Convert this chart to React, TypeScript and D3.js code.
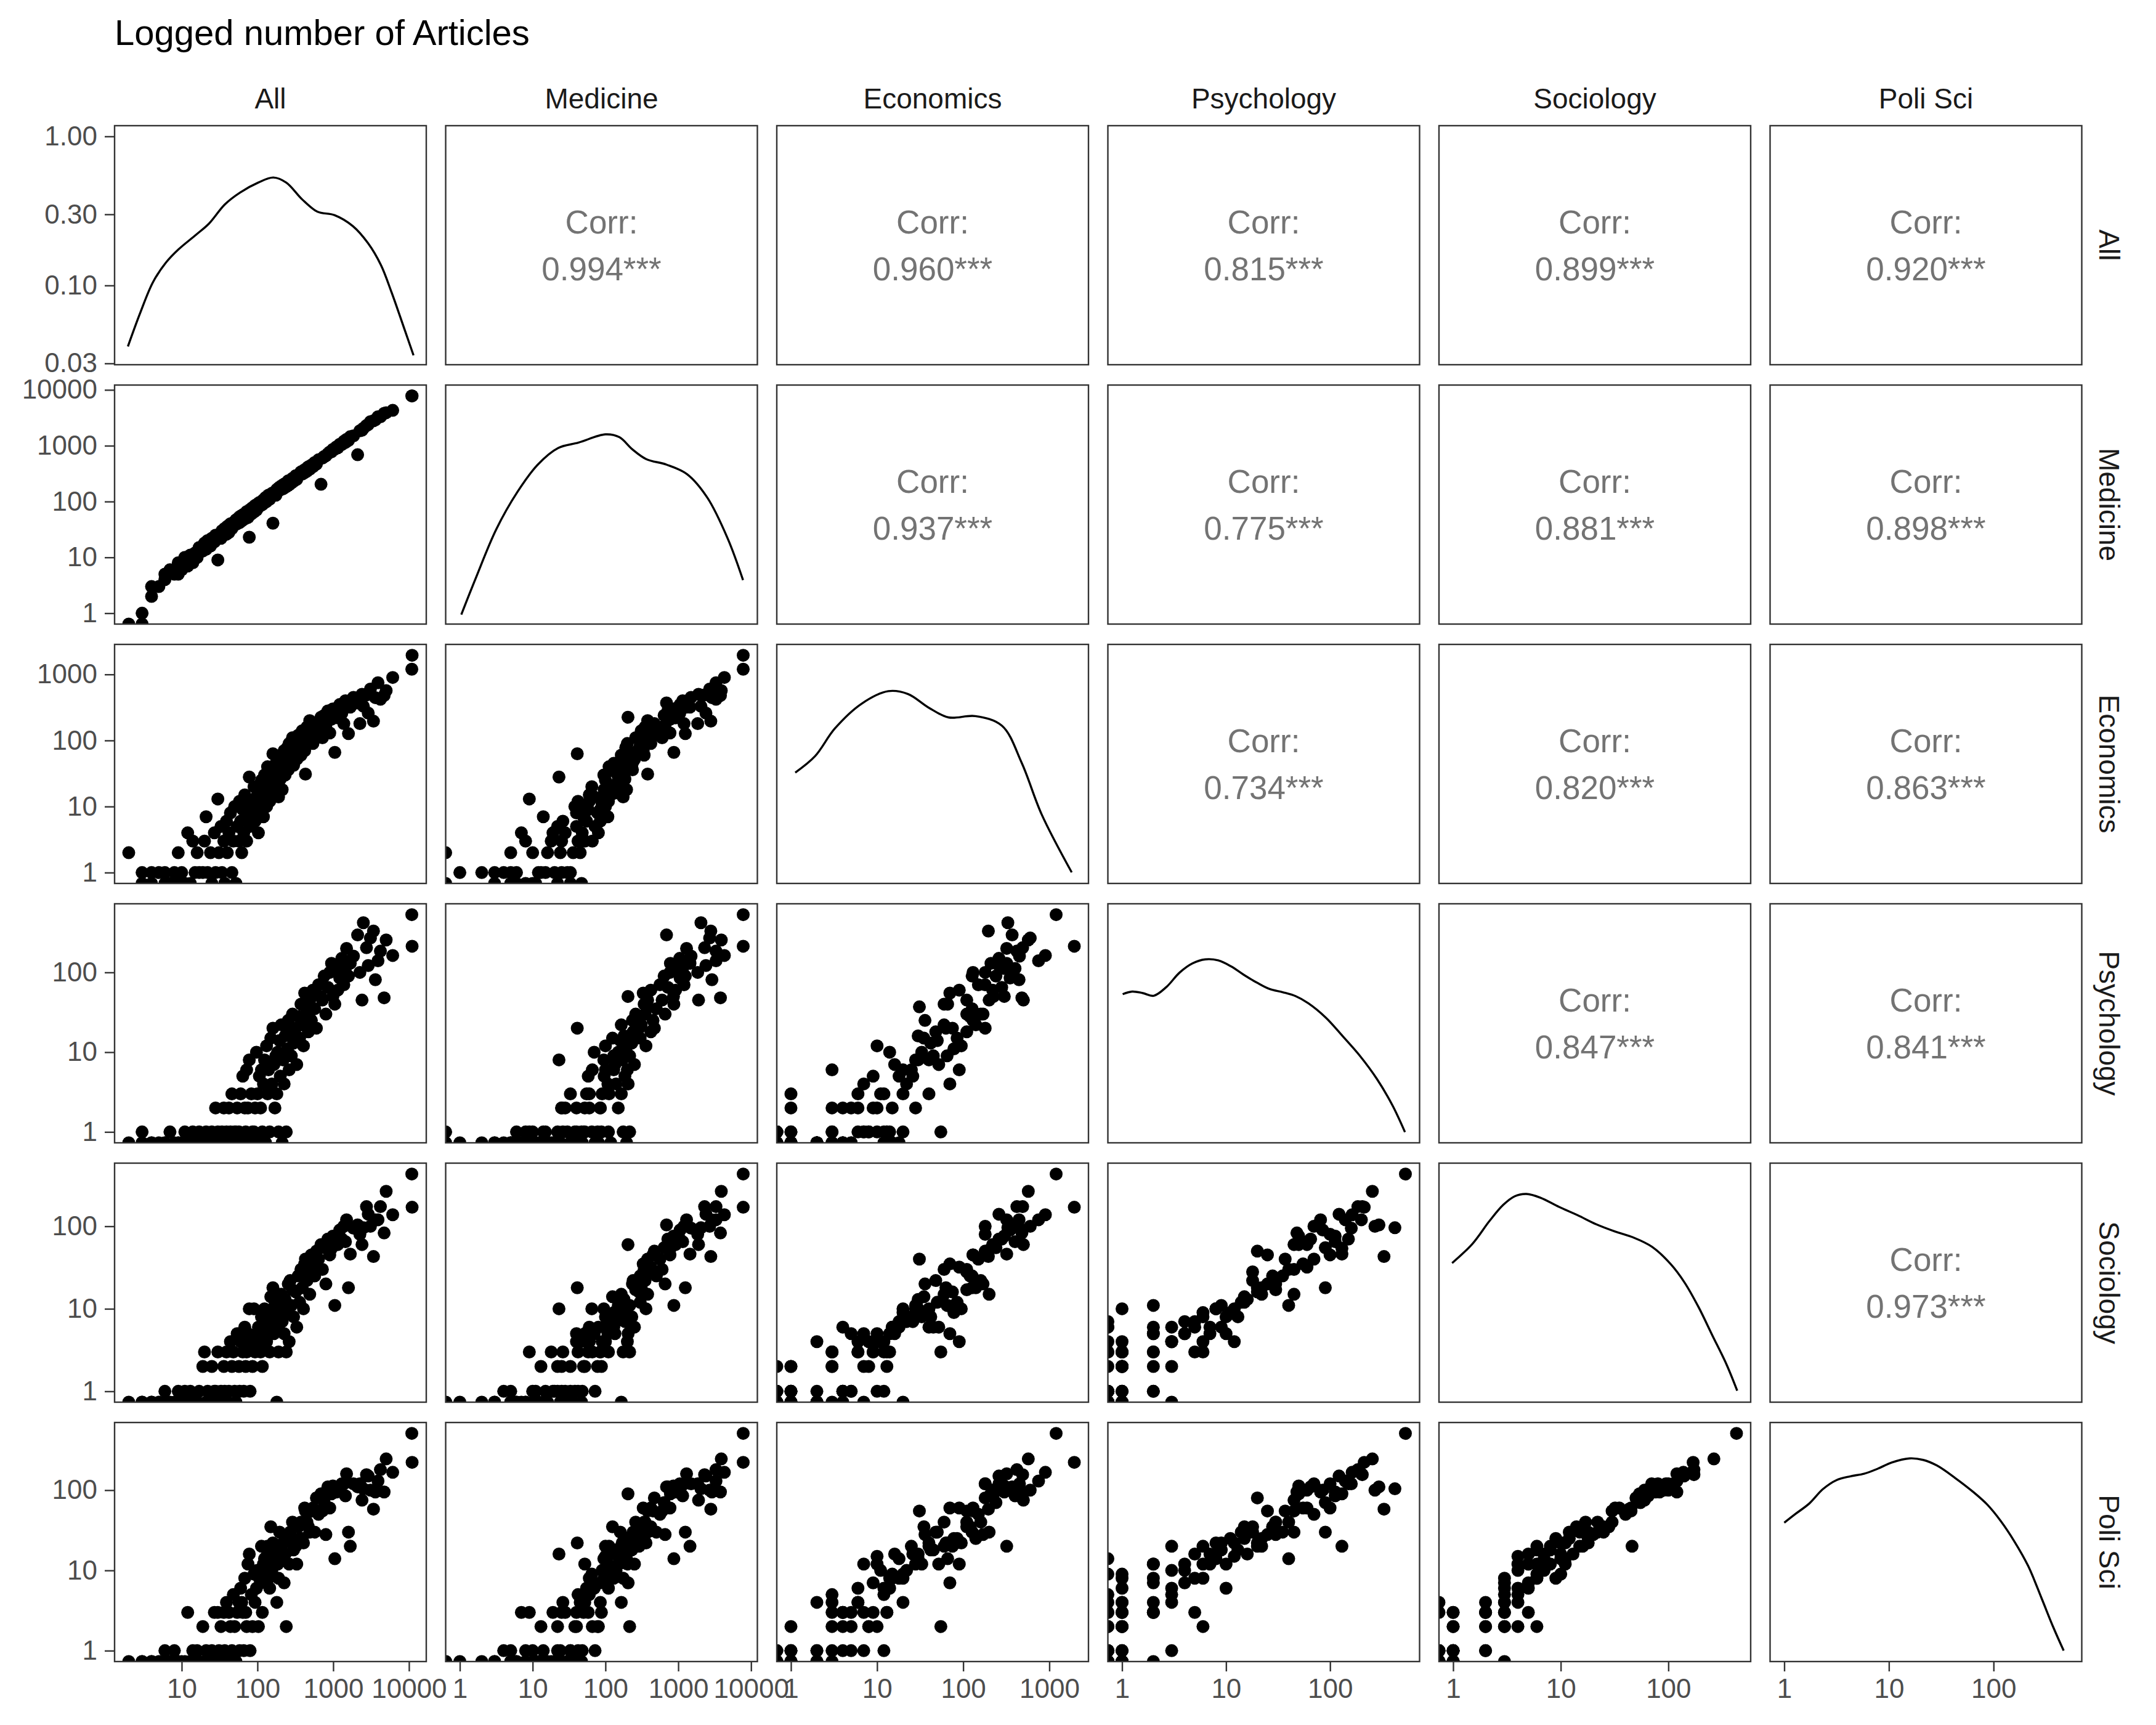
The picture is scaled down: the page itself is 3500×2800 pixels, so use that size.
import React, { useEffect, useRef } from 'react';
import * as d3 from 'd3';

const varNames = ['All', 'Medicine', 'Economics', 'Psychology', 'Sociology', 'Poli Sci'];

// article counts, one entry per unit (same order in every array)
const all = [
  2, 3, 3, 4, 4, 5, 6, 6, 7, 8, 9, 9, 10, 11, 12, 13, 14, 15, 16, 17,
  19, 20, 21, 22, 24, 25, 27, 28, 30, 31, 33, 34, 36, 37, 39, 40, 42, 44, 46, 48,
  50, 52, 54, 57, 58, 60, 62, 64, 66, 68, 70, 72, 75, 78, 80, 83, 86, 90, 93, 97,
  100, 103, 106, 110, 113, 116, 120, 124, 128, 132, 136, 140, 145, 150, 155, 160, 165, 170, 175, 180,
  185, 190, 196, 200, 206, 212, 218, 225, 232, 240, 248, 255, 262, 270, 280, 290, 300, 320, 330, 345,
  360, 375, 390, 405, 420, 430, 450, 470, 490, 515, 540, 570, 600, 640, 690, 720, 760, 800, 850, 900,
  950, 990, 1050, 1100, 1150, 1220, 1300, 1380, 1450, 1500, 1590, 1680, 1850, 2100, 2250, 2400, 2500, 2750, 2900, 3100,
  3400, 3600, 3900, 4200, 4700, 5000, 6100, 11000, 10900,
];
const medicine = [
  0, 1, 0, 2, 3, 3, 5, 4, 6, 5, 5, 8, 6, 10, 7, 11, 8, 12, 10, 15,
  13, 18, 14, 20, 16, 22, 19, 25, 9, 24, 22, 30, 25, 33, 26, 36, 28, 40, 33, 42,
  38, 47, 40, 52, 42, 55, 45, 58, 48, 60, 50, 66, 52, 23, 72, 60, 78, 65, 85, 70,
  90, 80, 96, 85, 100, 88, 108, 95, 118, 100, 112, 130, 110, 125, 140, 41, 135, 150, 130, 165,
  150, 175, 160, 185, 165, 195, 170, 205, 180, 215, 190, 235, 200, 240, 215, 260, 230, 290, 250, 300,
  300, 340, 310, 360, 330, 380, 350, 420, 380, 450, 420, 500, 470, 560, 204, 600, 640, 660, 720, 770,
  780, 860, 870, 950, 920, 1060, 1050, 1200, 1150, 1300, 1250, 1450, 1500, 690, 1850, 1900, 2050, 2300, 2400, 2700,
  2800, 2900, 3300, 3300, 3800, 3900, 4300, 7800, 7800,
];
const economics = [
  2, 1, 0, 1, 0, 1, 0, 1, 0, 1, 2, 0, 1, 0, 4, 0, 3, 1, 2, 1,
  1, 3, 7, 1, 2, 0, 4, 1, 13, 2, 5, 1, 3, 0, 6, 2, 4, 8, 1, 3,
  10, 0, 5, 3, 12, 6, 2, 9, 4, 15, 7, 3, 10, 28, 5, 12, 8, 20, 6, 14,
  11, 4, 18, 9, 25, 13, 7, 30, 15, 10, 40, 20, 12, 35, 22, 63, 16, 28, 45, 20,
  33, 14, 50, 26, 60, 18, 40, 70, 30, 55, 78, 36, 90, 48, 65, 110, 42, 75, 52, 120,
  85, 60, 140, 95, 70, 31, 160, 110, 200, 130, 90, 127, 180, 150, 225, 110, 240, 170, 280, 130,
  210, 300, 66, 300, 220, 350, 260, 180, 400, 320, 127, 320, 450, 370, 180, 500, 330, 490, 260, 600,
  196, 445, 750, 420, 480, 570, 900, 1950, 1200,
];
const psychology = [
  0, 0, 1, 0, 0, 0, 0, 0, 1, 0, 0, 0, 0, 1, 0, 0, 1, 0, 0, 1,
  0, 0, 1, 0, 0, 1, 0, 2, 1, 0, 0, 1, 2, 0, 1, 0, 2, 1, 3, 0,
  1, 1, 2, 1, 0, 3, 0, 5, 0, 2, 1, 6, 2, 8, 0, 3, 1, 1, 2, 10,
  3, 0, 5, 2, 6, 1, 4, 8, 0, 12, 3, 6, 1, 15, 4, 20, 7, 2, 9, 3,
  10, 1, 14, 5, 22, 0, 8, 4, 16, 1, 11, 25, 6, 18, 9, 30, 13, 20, 7, 28,
  15, 40, 22, 12, 55, 37, 30, 18, 45, 25, 60, 35, 20, 70, 50, 45, 90, 30, 65, 100,
  130, 50, 40, 112, 60, 85, 150, 70, 112, 200, 90, 130, 160, 295, 100, 45, 420, 204, 122, 270,
  330, 81, 140, 185, 48, 255, 163, 213, 530,
];
const sociology = [
  0, 0, 0, 0, 0, 0, 0, 1, 0, 0, 1, 0, 0, 1, 0, 1, 0, 0, 0, 1,
  2, 3, 0, 1, 0, 2, 1, 1, 3, 0, 1, 0, 2, 1, 3, 0, 1, 4, 2, 3,
  1, 0, 5, 2, 1, 4, 4, 3, 1, 6, 2, 3, 5, 10, 1, 4, 2, 10, 3, 5,
  4, 6, 6, 3, 8, 2, 5, 10, 6, 4, 6, 9, 3, 14, 7, 18, 5, 11, 6, 0,
  8, 3, 12, 7, 15, 7, 10, 5, 13, 3, 9, 20, 4, 22, 11, 17, 8, 16, 6, 25,
  12, 30, 18, 10, 35, 40, 22, 28, 15, 45, 32, 25, 50, 40, 60, 30, 55, 20, 70, 45,
  54, 76, 11, 76, 60, 90, 70, 100, 65, 120, 18, 46, 95, 104, 80, 60, 96, 173, 140, 100,
  43, 120, 120, 173, 83, 265, 138, 170, 430,
];
const poliSci = [
  0, 0, 0, 0, 0, 0, 0, 1, 0, 1, 0, 0, 0, 0, 3, 0, 1, 0, 1, 0,
  2, 0, 1, 0, 0, 1, 3, 0, 3, 1, 2, 0, 3, 1, 4, 0, 3, 2, 1, 5,
  2, 0, 3, 4, 1, 6, 4, 3, 1, 8, 3, 2, 12, 16, 1, 5, 2, 9, 4, 6,
  10, 2, 8, 7, 20, 3, 12, 14, 9, 15, 20, 8, 6, 35, 10, 22, 16, 12, 18, 4,
  12, 8, 30, 16, 20, 14, 22, 7, 16, 2, 25, 28, 12, 30, 22, 40, 18, 20, 12, 35,
  25, 40, 25, 22, 60, 55, 40, 35, 30, 55, 60, 30, 80, 50, 90, 55, 70, 28, 110, 60,
  90, 113, 14, 95, 100, 100, 120, 120, 85, 160, 30, 20, 120, 110, 120, 75, 104, 156, 150, 100,
  58, 95, 130, 180, 95, 245, 167, 222, 510,
];

// diagonal densities: [log10(articles), density]
const densityAll = [[0.29, 0.039], [0.45, 0.065], [0.62, 0.105], [0.79, 0.142], [0.96, 0.175], [1.19, 0.219], [1.36, 0.26], [1.57, 0.35], [1.77, 0.42], [2.01, 0.49], [2.21, 0.53], [2.38, 0.49], [2.59, 0.378], [2.79, 0.313], [3.02, 0.296], [3.26, 0.25], [3.46, 0.192], [3.63, 0.137], [3.77, 0.09], [3.94, 0.051], [4.06, 0.034]];
const densityMedicine = [[0.02, 0.034], [0.22, 0.06], [0.5, 0.127], [0.79, 0.226], [1.07, 0.345], [1.35, 0.446], [1.63, 0.485], [2.0, 0.551], [2.19, 0.528], [2.37, 0.437], [2.56, 0.376], [2.84, 0.345], [3.12, 0.298], [3.4, 0.207], [3.68, 0.11], [3.89, 0.058]];
const densityEconomics = [[0.05, 0.163], [0.28, 0.21], [0.51, 0.322], [0.82, 0.472], [1.13, 0.573], [1.36, 0.548], [1.6, 0.444], [1.83, 0.382], [2.14, 0.39], [2.45, 0.336], [2.68, 0.189], [2.91, 0.0857], [3.26, 0.0349]];
const densityPsychology = [[0.006, 0.292], [0.097, 0.304], [0.2, 0.297], [0.304, 0.285], [0.428, 0.327], [0.552, 0.407], [0.677, 0.47], [0.8, 0.5], [0.925, 0.492], [1.05, 0.448], [1.17, 0.394], [1.3, 0.348], [1.42, 0.316], [1.545, 0.301], [1.67, 0.283], [1.79, 0.254], [1.96, 0.203], [2.12, 0.153], [2.29, 0.112], [2.45, 0.0789], [2.6, 0.0524], [2.72, 0.0347]];
const densitySociology = [[-0.01, 0.252], [0.18, 0.34], [0.336, 0.481], [0.465, 0.619], [0.573, 0.708], [0.681, 0.733], [0.811, 0.692], [0.984, 0.6], [1.157, 0.528], [1.33, 0.459], [1.503, 0.411], [1.676, 0.374], [1.849, 0.324], [2.022, 0.248], [2.15, 0.187], [2.28, 0.128], [2.41, 0.0822], [2.54, 0.0528], [2.64, 0.0351]];
const densityPoliSci = [[0, 0.251], [0.109, 0.288], [0.24, 0.338], [0.37, 0.422], [0.5, 0.485], [0.632, 0.514], [0.763, 0.535], [0.893, 0.578], [1.024, 0.635], [1.198, 0.678], [1.328, 0.662], [1.459, 0.607], [1.633, 0.501], [1.807, 0.403], [1.938, 0.333], [2.068, 0.258], [2.199, 0.188], [2.33, 0.129], [2.46, 0.0778], [2.57, 0.0501], [2.67, 0.0348]];

// upper triangle, row by row
const corrValues = [0.994, 0.960, 0.815, 0.899, 0.920, 0.937, 0.775, 0.881, 0.898, 0.734, 0.820, 0.863, 0.847, 0.841, 0.973];

const allTicks = [10, 100, 1000, 10000];
const medicineTicks = [1, 10, 100, 1000, 10000];
const economicsTicks = [1, 10, 100, 1000];
const smallTicks = [1, 10, 100];
const densityTicks = [0.03, 0.1, 0.3, 1];

const App = () => {
  const svgRef = useRef<SVGSVGElement>(null);

  useEffect(() => {
    const svg = d3.select(svgRef.current);
    svg.selectAll('*').remove();

    const font = "'Liberation Sans', Arial, Helvetica, sans-serif";
    const left0 = 186, top0 = 204, pw = 506, ph = 388, gapX = 31.5, gapY = 33;
    const px = (c: number) => left0 + c * (pw + gapX);
    const py = (r: number) => top0 + r * (ph + gapY);

    const columns = [all, medicine, economics, psychology, sociology, poliSci];
    const ticks = [allTicks, medicineTicks, economicsTicks, smallTicks, smallTicks, smallTicks];
    const densities = [densityAll, densityMedicine, densityEconomics, densityPsychology, densitySociology, densityPoliSci];

    // log scales with ggplot-like 5% expansion
    const domains = columns.map(col => {
      const pos = col.filter(v => v > 0).map(v => Math.log10(v));
      const lo = d3.min(pos) as number, hi = d3.max(pos) as number;
      const pad = (hi - lo) * 0.05;
      return [10 ** (lo - pad), 10 ** (hi + pad)];
    });
    const xScales = domains.map((d, c) => d3.scaleLog().domain(d).range([px(c), px(c) + pw]));
    const yScales = domains.map((d, r) => d3.scaleLog().domain(d).range([py(r) + ph, py(r)]));
    const densityY = (r: number) => d3.scaleLog().domain([0.0294, 1.18]).range([py(r) + ph, py(r)]);

    svg.append('rect').attr('width', 3500).attr('height', 2800).attr('fill', '#fff');

    svg.append('text')
      .attr('x', 186).attr('y', 73)
      .attr('font-family', font).attr('font-size', 58).attr('fill', '#000')
      .text('Logged number of Articles');

    const defs = svg.append('defs');
    const fmt = d3.format('.3f');
    let k = 0;

    for (let r = 0; r < 6; r++) {
      for (let c = 0; c < 6; c++) {
        const x0 = px(c), y0 = py(r);
        const id = `clip-${r}-${c}`;
        defs.append('clipPath').attr('id', id)
          .append('rect').attr('x', x0).attr('y', y0).attr('width', pw).attr('height', ph);
        const g = svg.append('g');

        if (r > c) {
          const xs = xScales[c], ys = yScales[r];
          const pts = columns[c].map((v, i) => [v, columns[r][i]]);
          // zero counts sit on the panel edge, like -Inf in ggplot
          g.append('g').attr('clip-path', `url(#${id})`)
            .selectAll('circle')
            .data(pts)
            .enter()
            .append('circle')
            .attr('cx', d => d[0] > 0 ? xs(d[0]) : x0)
            .attr('cy', d => d[1] > 0 ? ys(d[1]) : y0 + ph)
            .attr('r', 10.5)
            .attr('fill', '#000');
        } else if (r === c) {
          const xs = xScales[c], ys = densityY(r);
          const line = d3.line<number[]>()
            .x(d => xs(10 ** d[0]))
            .y(d => ys(d[1]))
            .curve(d3.curveCatmullRom.alpha(0.5));
          g.append('path')
            .datum(densities[c])
            .attr('clip-path', `url(#${id})`)
            .attr('fill', 'none').attr('stroke', '#000').attr('stroke-width', 3.4)
            .attr('d', line);
        } else {
          const cx = x0 + pw / 2, cy = y0 + ph / 2;
          g.append('text').attr('x', cx).attr('y', cy - 38)
            .attr('text-anchor', 'middle').attr('dominant-baseline', 'central')
            .attr('font-family', font).attr('font-size', 53).attr('fill', '#737373')
            .text('Corr:');
          g.append('text').attr('x', cx).attr('y', cy + 38)
            .attr('text-anchor', 'middle').attr('dominant-baseline', 'central')
            .attr('font-family', font).attr('font-size', 53).attr('fill', '#737373')
            .text(`${fmt(corrValues[k])}***`);
          k++;
        }

        g.append('rect')
          .attr('x', x0).attr('y', y0).attr('width', pw).attr('height', ph)
          .attr('fill', 'none').attr('stroke', '#333333').attr('stroke-width', 2.4);
      }
    }

    const styleAxis = (sel: any) => {
      sel.select('.domain').remove();
      sel.attr('font-family', font).attr('font-size', 44);
      sel.selectAll('.tick line').attr('stroke', '#333333').attr('stroke-width', 2.4);
      sel.selectAll('.tick text').attr('fill', '#4d4d4d');
    };

    // left axes
    for (let r = 0; r < 6; r++) {
      const axis = r === 0
        ? d3.axisLeft(densityY(0)).tickValues(densityTicks).tickFormat(d3.format('.2f') as any)
        : d3.axisLeft(yScales[r]).tickValues(ticks[r]).tickFormat(d3.format('d') as any);
      svg.append('g')
        .attr('transform', `translate(${left0},0)`)
        .call(axis.tickSize(16).tickPadding(12).tickSizeOuter(0))
        .call(styleAxis);
    }

    // bottom axes
    const bottom = py(5) + ph;
    for (let c = 0; c < 6; c++) {
      svg.append('g')
        .attr('transform', `translate(0,${bottom})`)
        .call(d3.axisBottom(xScales[c]).tickValues(ticks[c]).tickFormat(d3.format('d') as any)
          .tickSize(16).tickPadding(12).tickSizeOuter(0))
        .call(styleAxis);
    }

    // strips
    varNames.forEach((name, i) => {
      svg.append('text')
        .attr('x', px(i) + pw / 2).attr('y', 176)
        .attr('text-anchor', 'middle')
        .attr('font-family', font).attr('font-size', 46).attr('fill', '#1a1a1a')
        .text(name);
      svg.append('text')
        .attr('transform', `translate(${px(5) + pw + 28},${py(i) + ph / 2}) rotate(90)`)
        .attr('text-anchor', 'middle')
        .attr('font-family', font).attr('font-size', 46).attr('fill', '#1a1a1a')
        .text(name);
    });
  }, []);

  return (
    <svg
      ref={svgRef}
      width={3500}
      height={2800}
      style={{ position: 'absolute', left: 0, top: 0, display: 'block' }}
    />
  );
};

export default App;
